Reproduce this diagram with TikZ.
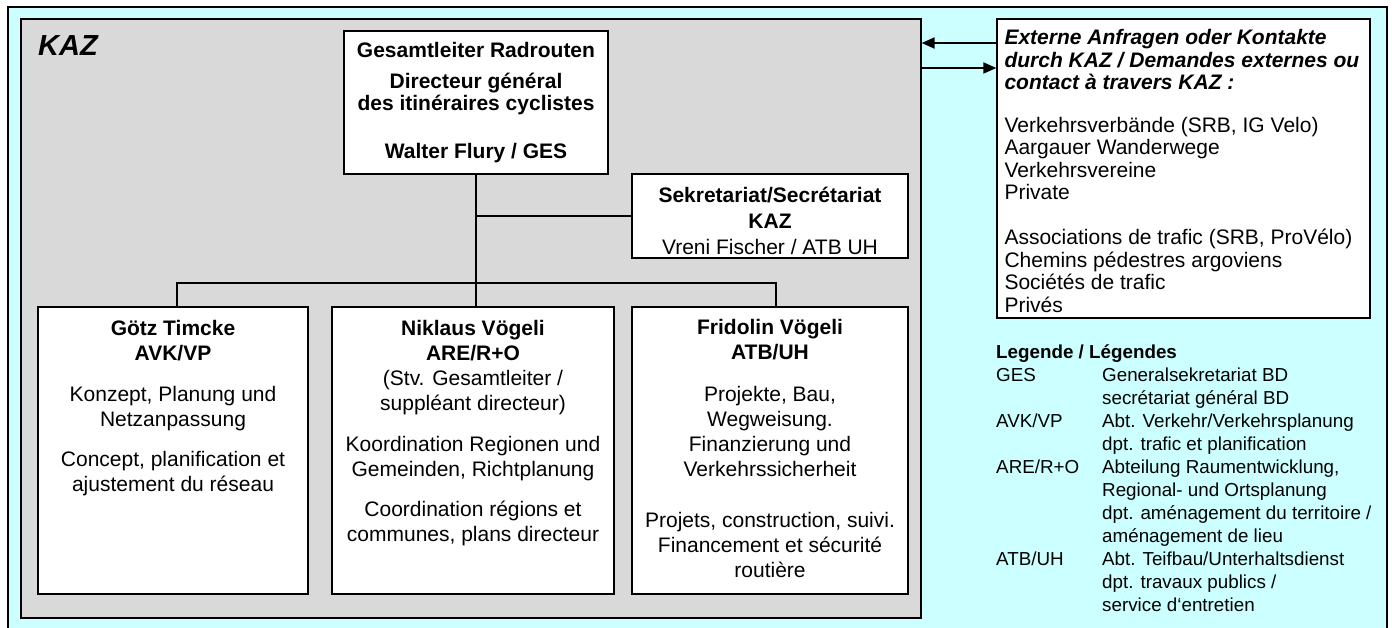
\documentclass[tikz,border=0pt]{standalone}
\usepackage{fontspec}
\setmainfont{Liberation Sans}
\usetikzlibrary{positioning,arrows.meta}
\definecolor{kazcyan}{RGB}{204,255,255}
\definecolor{kazgray}{RGB}{217,217,217}
\tikzset{
	orgbox/.style={draw=black, fill=white, line width=1.3pt, inner sep=0pt},
	boxtext/.style={align=center, inner sep=0pt, font=\fontsize{21}{25}\selectfont},
	link/.style={line width=1.2pt},
	flow/.style={line width=2pt, -{Triangle[length=13pt,width=11pt]}}
}

\begin{document}
\begin{tikzpicture}[x=1pt,y=-1pt]
			%%%%% START %%%%%
			\useasboundingbox (0,0) rectangle (1392,628);
			
			\fill[kazcyan] (8,7) rectangle (1387,628);
			\draw[line width=2pt] (8,628) -- (8,7) -- (1387,7) -- (1387,628);
			
			\node[orgbox, fill=kazgray, minimum width=900pt, minimum height=599pt] (kaz) at (471,318.5) {};
			\node[anchor=base west, inner sep=0pt, font=\fontsize{29}{34}\selectfont\bfseries\itshape] (kazlabel) at (38,56) {KAZ};
			
			\node[orgbox, minimum width=264pt, minimum height=143pt] (chief) at (476,102.5) {};
			\node[boxtext, font=\fontsize{21}{22}\selectfont\bfseries, below=11.6pt of chief.north] (chieftext) {\strut Gesamtleiter Radrouten\\[8pt] Directeur général\\ des itinéraires cyclistes\\[26pt] Walter Flury / GES};
			
			\node[orgbox, minimum width=276pt, minimum height=84pt] (sek) at (770,216) {};
			\node[boxtext, font=\fontsize{21}{26}\selectfont, below=10.8pt of sek.north] (sektext) {\strut\textbf{Sekretariat/Secrétariat}\\ \textbf{KAZ}\\ Vreni Fischer / ATB UH};
			
			\node[orgbox, minimum width=270pt, minimum height=287pt] (timcke) at (173,450.5) {};
			\node[orgbox, minimum width=282pt, minimum height=287pt] (niklaus) at (473,450.5) {};
			\node[orgbox, minimum width=276pt, minimum height=287pt] (fridolin) at (770,450.5) {};
			
			\node[boxtext, below=11.5pt of timcke.north] (timcketext) {\strut\textbf{Götz Timcke}\\ \textbf{AVK/VP}\\[16pt] Konzept, Planung und\\ Netzanpassung\\[15pt] Concept, planification et\\ ajustement du réseau};
			\node[boxtext, below=11.5pt of niklaus.north] (niklaustext) {\strut\textbf{Niklaus Vögeli}\\ \textbf{ARE/R+O}\\ (Stv. Gesamtleiter /\\ suppléant directeur)\\[16pt] Koordination Regionen und\\ Gemeinden, Richtplanung\\[15pt] Coordination régions et\\ communes, plans directeur};
			\node[boxtext, below=10.5pt of fridolin.north] (fridolintext) {\strut\textbf{Fridolin Vögeli}\\ \textbf{ATB/UH}\\[17pt] Projekte, Bau,\\ Wegweisung.\\ Finanzierung und\\ Verkehrssicherheit\\[26pt] Projets, construction, suivi.\\ Financement et sécurité\\ routière};
			
			\draw[link] (chief.south) -- (chief.south |- niklaus.north);
			\draw[link] (chief.south |- sek.west) -- (sek.west);
			\coordinate (bus) at (476,283);
			\draw[link] ([xshift=4pt]timcke.north) |- (bus) -| ([xshift=6pt]fridolin.north);
			
			\node[orgbox, minimum width=373pt, minimum height=299pt] (extern) at (1183.5,168.5) {};
			\node[align=left, inner sep=0pt, font=\fontsize{21}{22.5}\selectfont, below right=10.25pt and 8pt of extern.north west] (externtext) {\strut\textbf{\textit{Externe Anfragen oder Kontakte}}\\ \textbf{\textit{durch KAZ / Demandes externes ou}}\\ \textbf{\textit{contact à travers KAZ :}}\\[20pt] Verkehrsverbände (SRB, IG Velo)\\ Aargauer Wanderwege\\ Verkehrsvereine\\ Private\\[22.5pt] Associations de trafic (SRB, ProVélo)\\ Chemins pédestres argoviens\\ Sociétés de trafic\\ Privés};
			
			\coordinate (askin) at (960,43);
			\coordinate (askout) at (960,68);
			\draw[flow] (extern.west |- askin) -- (kaz.east |- askin);
			\draw[flow] (kaz.east |- askout) -- (extern.west |- askout);
			
			\node[anchor=north west, inner sep=0pt, font=\fontsize{18.8}{23}\selectfont] (legend) at (996,341.9) {%
				\begin{tabular}{@{}p{106pt}@{}l@{}}
					\multicolumn{2}{@{}l@{}}{\textbf{Legende / Légendes}}\\
					GES & Generalsekretariat BD\\
					& secrétariat général BD\\
					AVK/VP & Abt. Verkehr/Verkehrsplanung\\
					& dpt. trafic et planification\\
					ARE/R+O & Abteilung Raumentwicklung,\\
					& Regional- und Ortsplanung\\
					& dpt. aménagement du territoire /\\
					& aménagement de lieu\\
					ATB/UH & Abt. Teifbau/Unterhaltsdienst\\
					& dpt. travaux publics /\\
					& service d‘entretien
				\end{tabular}};
			
			%%%%% END %%%%%
\end{tikzpicture}
\end{document}
